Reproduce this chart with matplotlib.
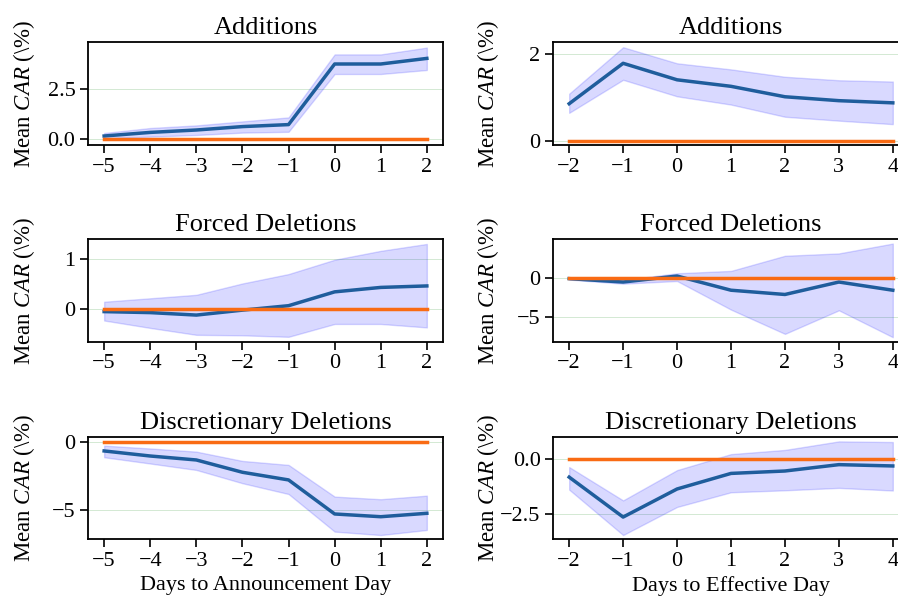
import matplotlib
matplotlib.use("Agg")
import matplotlib.pyplot as plt

plt.rcParams["font.family"] = ["Liberation Serif", "DejaVu Serif"]
plt.rcParams["mathtext.fontset"] = "custom"
plt.rcParams["mathtext.rm"] = "Liberation Serif"
plt.rcParams["mathtext.it"] = "Liberation Serif:italic"
plt.rcParams["font.size"] = 16

# Event windows
days_ann = [-5, -4, -3, -2, -1, 0, 1, 2]
days_eff = [-2, -1, 0, 1, 2, 3, 4]

# Announcement-day window: mean CAR and confidence bands (%)
add_ann_mean = [0.15, 0.33, 0.45, 0.62, 0.72, 3.75, 3.75, 4.03]
add_ann_lo = [0.03, 0.12, 0.20, 0.32, 0.36, 3.25, 3.25, 3.45]
add_ann_hi = [0.30, 0.55, 0.68, 0.88, 1.08, 4.23, 4.23, 4.57]

forced_ann_mean = [-0.06, -0.08, -0.13, -0.03, 0.06, 0.34, 0.43, 0.46]
forced_ann_lo = [-0.24, -0.39, -0.53, -0.54, -0.57, -0.31, -0.31, -0.38]
forced_ann_hi = [0.14, 0.21, 0.28, 0.51, 0.70, 0.99, 1.17, 1.31]

disc_ann_mean = [-0.68, -1.05, -1.34, -2.24, -2.80, -5.29, -5.49, -5.24]
disc_ann_lo = [-1.14, -1.60, -2.07, -3.04, -3.83, -6.58, -6.83, -6.46]
disc_ann_hi = [-0.29, -0.50, -0.73, -1.41, -1.70, -4.02, -4.21, -3.95]

# Effective-day window: mean CAR and confidence bands (%)
add_eff_mean = [0.85, 1.78, 1.40, 1.25, 1.01, 0.92, 0.87]
add_eff_lo = [0.64, 1.40, 1.02, 0.83, 0.55, 0.46, 0.38]
add_eff_hi = [1.08, 2.15, 1.78, 1.64, 1.47, 1.39, 1.36]

forced_eff_mean = [-0.13, -0.56, 0.20, -1.60, -2.14, -0.56, -1.60]
forced_eff_lo = [-0.25, -0.77, -0.43, -4.06, -7.14, -4.15, -7.56]
forced_eff_hi = [0.00, -0.30, 0.55, 0.85, 2.77, 3.07, 4.32]

disc_eff_mean = [-0.83, -2.65, -1.37, -0.66, -0.55, -0.26, -0.32]
disc_eff_lo = [-1.40, -3.47, -2.19, -1.52, -1.43, -1.32, -1.44]
disc_eff_hi = [-0.37, -1.89, -0.51, 0.22, 0.41, 0.80, 0.77]

titles = ["Additions", "Forced Deletions", "Discretionary Deletions"]
yticks_ann = [[0.0, 2.5], [0, 1], [-5, 0]]
yticks_eff = [[0, 2], [-5, 0], [-2.5, 0.0]]
ylims_ann = [(-0.3, 4.85), (-0.675, 1.41), (-7.12, 0.34)]
ylims_eff = [(-0.1, 2.27), (-8.17, 4.9), (-3.65, 1.0)]

BLUE = "#1f5d9c"
ORANGE = "#f96b14"

fig = plt.figure(figsize=(8.98, 6.06), dpi=100)

col_x = [88 / 898, 553 / 898]
col_w = [355 / 898, 356 / 898]
row_top = [42, 239, 437]
row_bot = [145, 342, 539]

panels = [
    (days_ann, [add_ann_mean, forced_ann_mean, disc_ann_mean],
     [add_ann_lo, forced_ann_lo, disc_ann_lo],
     [add_ann_hi, forced_ann_hi, disc_ann_hi],
     yticks_ann, ylims_ann, "Days to Announcement Day"),
    (days_eff, [add_eff_mean, forced_eff_mean, disc_eff_mean],
     [add_eff_lo, forced_eff_lo, disc_eff_lo],
     [add_eff_hi, forced_eff_hi, disc_eff_hi],
     yticks_eff, ylims_eff, "Days to Effective Day"),
]

for c, (days, means, los, his, yticks, ylims, xlabel) in enumerate(panels):
    for r in range(3):
        bottom = 1 - row_bot[r] / 606
        height = (row_bot[r] - row_top[r]) / 606
        ax = fig.add_axes([col_x[c], bottom, col_w[c], height])
        ax.fill_between(days, los[r], his[r], color="b", alpha=0.15, linewidth=1)
        ax.plot(days, means[r], color=BLUE, linewidth=2.5, zorder=3)
        ax.plot(days, [0] * len(days), color=ORANGE, linewidth=2.5, zorder=3)
        ax.set_xticks(days)
        ax.set_yticks(yticks[r])
        ax.set_ylim(*ylims[r])
        span = days[-1] - days[0]
        ax.set_xlim(days[0] - 0.05 * span, days[-1] + 0.05 * span)
        ax.yaxis.grid(True, color="green", alpha=0.2, linewidth=0.6)
        ax.set_axisbelow(True)
        ax.set_title(titles[r], fontsize=19)
        ax.set_ylabel("Mean $CAR$ ($\\backslash$%)", fontsize=16.5)
        ax.yaxis.set_label_coords(-0.145, 0.5)
        ax.tick_params(direction="out", length=5.5, width=1.2, labelsize=16)
        for s in ax.spines.values():
            s.set_linewidth(1.3)
        if r == 2:
            ax.set_xlabel(xlabel, fontsize=16)

fig.savefig("out.png", dpi=100)
